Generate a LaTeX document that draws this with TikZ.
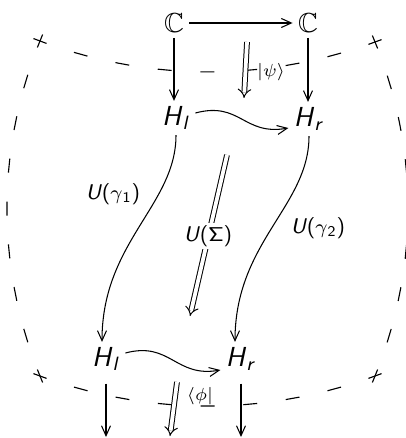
\documentclass[tikz,border=0pt]{standalone}
\usepackage{amssymb}
\usetikzlibrary{arrows.meta,decorations.markings,calc}
\newcommand{\sfi}[1]{\textsf{\itshape #1}}
\tikzset{
  ar/.style={-{Straight Barb[length=4pt,width=3.6pt]}, line width=0.42pt},
  dar/.style={double, double distance=1.5pt, line width=0.4pt, -{Implies[scale=1.3]}},
  obj/.style={font=\fontsize{11}{13}\selectfont, inner sep=2pt},
  lab/.style={font=\fontsize{8.5}{10}\selectfont, inner sep=1pt},
  slab/.style={font=\fontsize{7.5}{9}\selectfont, inner sep=1pt},
  seam/.style={decorate, decoration={markings,
      mark=between positions 0 and 0.99 step 0.125 with {\draw[line width=0.45pt] (-2.8pt,0) -- (2.8pt,0);}}},
  seamend/.style={decorate, decoration={markings,
      mark=at position 0 with {\draw[line width=0.45pt] (-2.8pt,0) -- (2.8pt,0);}}},
}
\begin{document}
\begin{tikzpicture}[x=0.4pt,y=-0.4pt]
\useasboundingbox (0,0) rectangle (405,438);
% dashed seam
\coordinate (TL) at (40,41);
\coordinate (TR) at (375,42);
\coordinate (BL) at (40,376);
\coordinate (BR) at (375,376);
\path[seam] (TL) .. controls (150,82) and (265,82) .. (TR);
\path[seam] (BL) .. controls (150,416) and (265,416) .. (BR);
\path[seam] (TL) .. controls (-4,150) and (-4,267) .. (BL);
\path[seam] (TR) .. controls (419,150) and (419,267) .. (BR);
\path[seamend] (TR) .. controls (265,82) and (150,82) .. (TL);
\path[seamend] (BR) .. controls (265,416) and (150,416) .. (BL);
\path[seamend] (BL) .. controls (-4,267) and (-4,150) .. (TL);
\path[seamend] (BR) .. controls (419,267) and (419,150) .. (TR);
% objects
\node[obj] (C1) at (174,23) {$\mathbb{C}$};
\node[obj] (C2) at (308,23) {$\mathbb{C}$};
\node[obj] (Hl1) at (176,118) {\sfi{H}\textsubscript{\sfi{l}}};
\node[obj] (Hr1) at (309,119) {\sfi{H}\textsubscript{\sfi{r}}};
\node[obj] (Hl2) at (106,359) {\sfi{H}\textsubscript{\sfi{l}}};
\node[obj] (Hr2) at (241,359) {\sfi{H}\textsubscript{\sfi{r}}};
\coordinate (E1) at (107,437);
\coordinate (E2) at (241,437);
% arrows
\draw[ar] (C1) -- (C2);
\draw[ar] (C1.south) -- (C1.south |- Hl1.north);
\draw[ar] (C2.south) -- (C2.south |- Hr1.north);
\draw[ar] ([yshift=2pt]Hl1.east) .. controls +(45,-12) and +(-45,8) .. ([yshift=-3.6pt]Hr1.west);
\draw[ar] ([yshift=2.4pt]Hl2.east) .. controls +(45,-12) and +(-45,8) .. ([yshift=-4.4pt]Hr2.west);
\draw[ar] (Hl1.south) .. controls +(0,70) and +(0,-100) .. ([xshift=-1.6pt]Hl2.north);
\draw[ar] (Hr1.south) .. controls +(0,70) and +(0,-100) .. ([xshift=-2.4pt]Hr2.north);
\draw[ar, shorten <=3pt] (Hl2.south) -- (Hl2.south |- E1);
\draw[ar, shorten <=3pt] (Hr2.south) -- (Hr2.south |- E2);
% labels on curves
\node[lab] (Ug1) at (113,194) {\sfi{U}\textsf{(}$\gamma$\textsubscript{\textsf{1}}\textsf{)}};
\node[lab] (Ug2) at (318,228) {\sfi{U}\textsf{(}$\gamma$\textsubscript{\textsf{2}}\textsf{)}};
% 2-cells
\coordinate (p1) at (247,42);
\coordinate (p2) at (244,98);
\draw[dar] (p1) -- (p2);
\node[slab] (psi) at (271,72) {$|\psi\rangle$};
\coordinate (m1) at (227,155);
\coordinate (m2) at (190,316);
\draw[dar] (m1) -- (m2);
\node[lab, fill=white] (US) at (208,236) {\sfi{U}\textsf{(}$\mathsf{\Sigma}$\textsf{)}};
\coordinate (q1) at (177,382);
\coordinate (q2) at (170,436);
\draw[dar] (q1) -- (q2);
\node[slab] (phi) at (200,396) {$\langle\phi|$};
\end{tikzpicture}
\end{document}
